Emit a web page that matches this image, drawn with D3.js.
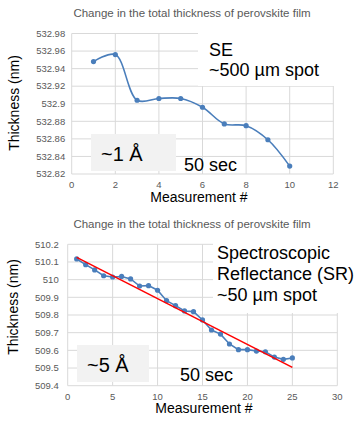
<!DOCTYPE html>
<html><head><meta charset="utf-8">
<script src="https://cdn.jsdelivr.net/npm/d3@7"></script>
<style>body{margin:0;background:#fff}svg{display:block;font-family:"Liberation Sans",Arial,sans-serif}</style>
</head><body><svg id="c" width="357" height="423"></svg>
<script>
// Top chart (SE)
const seX = [1,2,3,4,5,6,7,8,9,10];
const seY = [532.948,532.956,532.904,532.906,532.906,532.896,532.877,532.875,532.859,532.829];
const seXTicks = [0,2,4,6,8,10,12];
const seYTicks = [532.82,532.84,532.86,532.88,532.9,532.92,532.94,532.96,532.98];
const seYLabels = ["532.82","532.84","532.86","532.88","532.9","532.92","532.94","532.96","532.98"];
// Bottom chart (SR)
const srX = d3.range(1,26);
const srY = [510.117,510.085,510.055,510.022,510.015,510.018,510.004,509.964,509.966,509.94,
             509.881,509.853,509.823,509.819,509.772,509.715,509.692,509.636,509.604,509.604,
             509.596,509.592,509.562,509.549,509.557];
const srTrendX = [1,25];
const srTrendY = [510.126,509.504];
const srXTicks = [0,5,10,15,20,25,30];
const srYTicks = [509.4,509.5,509.6,509.7,509.8,509.9,510,510.1,510.2];
const srYLabels = ["509.4","509.5","509.6","509.7","509.8","509.9","510","510.1","510.2"];
const title = "Change in the total thickness of perovskite film";

const svg = d3.select("#c");
const grid = "#d9d9d9", lab = "#595959", blue = "#4a7ebb";

function panel(o){
  const g = svg.append("g");
  const x = d3.scaleLinear().domain(o.xd).range(o.xr);
  const y = d3.scaleLinear().domain(o.yd).range(o.yr);
  g.selectAll(".hg").data(o.yt).join("line").attr("x1",o.xr[0]).attr("x2",o.xr[1])
    .attr("y1",d=>y(d)).attr("y2",d=>y(d)).attr("stroke",grid).attr("stroke-width",1);
  g.selectAll(".vg").data(o.xt).join("line").attr("y1",o.yr[0]).attr("y2",o.yr[1])
    .attr("x1",d=>x(d)).attr("x2",d=>x(d)).attr("stroke",grid).attr("stroke-width",1);
  g.selectAll(".yl").data(o.yt).join("text").attr("x",o.xr[0]-o.yoff).attr("y",d=>y(d)+3.3)
    .attr("text-anchor","end").attr("font-size",9.5).attr("fill",lab).text((d,i)=>o.yl[i]);
  g.selectAll(".xl").data(o.xt).join("text").attr("x",d=>x(d)).attr("y",o.yr[0]+13.8)
    .attr("text-anchor","middle").attr("font-size",9.5).attr("fill",lab).text(d=>d);
  g.append("text").attr("x",o.tx).attr("y",o.ty).attr("text-anchor","middle")
    .attr("font-size",11.5).attr("fill",lab).text(title);
  g.append("text").attr("transform",`translate(${o.ytx},${o.yty}) rotate(-90)`)
    .attr("text-anchor","middle").attr("font-size",14).attr("fill","#000").text("Thickness (nm)");
  g.append("text").attr("x",o.xtx).attr("y",o.xty).attr("text-anchor","middle")
    .attr("font-size",14).attr("fill","#000").text("Measurement #");
  return {g,x,y};
}

// ---- top
const A = panel({xd:[0,12],xr:[71.7,333.3],yd:[532.82,532.98],yr:[174,33.5],yoff:6.5,
  xt:seXTicks,yt:seYTicks,yl:seYLabels,tx:192,ty:17,ytx:19,yty:103,xtx:199,xty:202});
A.g.append("rect").attr("x",198).attr("y",29).attr("width",138).attr("height",57).attr("fill","#fff");
A.g.append("rect").attr("x",91).attr("y",134).attr("width",85).attr("height",37).attr("fill","#f2f2f2");
const seData = seX.map((d,i)=>[d,seY[i]]);
A.g.append("path").datum(seData).attr("fill","none").attr("stroke",blue).attr("stroke-width",1.6)
  .attr("d",d3.line().x(d=>A.x(d[0])).y(d=>A.y(d[1])).curve(d3.curveCatmullRom.alpha(0.5)));
A.g.selectAll(".pt").data(seData).join("circle").attr("cx",d=>A.x(d[0])).attr("cy",d=>A.y(d[1]))
  .attr("r",2.6).attr("fill",blue);
A.g.append("text").attr("x",209).attr("y",56).attr("font-size",18).text("SE");
A.g.append("text").attr("x",209).attr("y",76).attr("font-size",18).text("~500 µm spot");
A.g.append("text").attr("x",101).attr("y",161).attr("font-size",20).text("~1 Å");
A.g.append("text").attr("x",184).attr("y",171).attr("font-size",18).text("50 sec");

// ---- bottom
const B = panel({xd:[0,30],xr:[67.7,337.3],yd:[509.4,510.2],yr:[385.7,244.3],yoff:9,
  xt:srXTicks,yt:srYTicks,yl:srYLabels,tx:192,ty:228,ytx:18,yty:307,xtx:204,xty:413});
B.g.append("rect").attr("x",213).attr("y",240).attr("width",144).attr("height",73).attr("fill","#fff");
B.g.append("rect").attr("x",77).attr("y",345).attr("width",72).attr("height",37).attr("fill","#f2f2f2");
const srData = srX.map((d,i)=>[d,srY[i]]);
B.g.append("path").datum(srData).attr("fill","none").attr("stroke",blue).attr("stroke-width",1.6)
  .attr("d",d3.line().x(d=>B.x(d[0])).y(d=>B.y(d[1])));
B.g.selectAll(".pt").data(srData).join("circle").attr("cx",d=>B.x(d[0])).attr("cy",d=>B.y(d[1]))
  .attr("r",2.6).attr("fill",blue);
B.g.append("path").datum(srTrendX.map((d,i)=>[d,srTrendY[i]])).attr("stroke","#ff0000").attr("stroke-width",1.5)
  .attr("fill","none").attr("d",d3.line().x(d=>B.x(d[0])).y(d=>B.y(d[1])));
B.g.append("text").attr("x",217).attr("y",259).attr("font-size",18).text("Spectroscopic");
B.g.append("text").attr("x",217).attr("y",280).attr("font-size",18).text("Reflectance (SR)");
B.g.append("text").attr("x",217).attr("y",301).attr("font-size",18).text("~50 µm spot");
B.g.append("text").attr("x",87).attr("y",372).attr("font-size",20).text("~5 Å");
B.g.append("text").attr("x",180).attr("y",381).attr("font-size",18).text("50 sec");
</script></body></html>
